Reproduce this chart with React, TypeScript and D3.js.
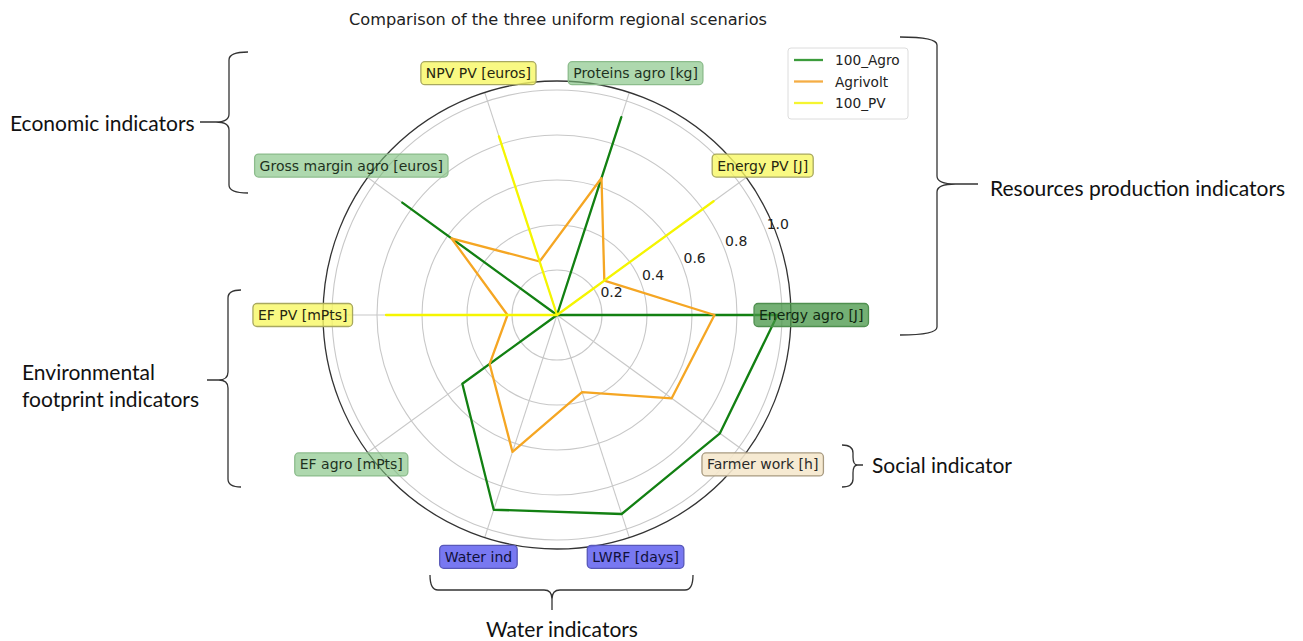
import { useEffect, useRef } from 'react';
import * as d3 from 'd3';

// ==========================================
// DATA
// ==========================================
const axisLabels = [
  'Energy agro [J]',
  'Energy PV [J]',
  'Proteins agro [kg]',
  'NPV PV [euros]',
  'Gross margin agro [euros]',
  'EF PV [mPts]',
  'EF agro [mPts]',
  'Water ind',
  'LWRF [days]',
  'Farmer work [h]',
];

// kind of indicator, drives the label box colour
const labelKinds = ['agroMain', 'pv', 'agro', 'pv', 'agro', 'pv', 'agro', 'water', 'water', 'social'];

const seriesNames = ['100_Agro', 'Agrivolt', '100_PV'];

const agroValues = [0.98, 0, 0.925, 0, 0.85, 0, 0.52, 0.91, 0.93, 0.895];
const agrivoltValues = [0.7, 0.26, 0.64, 0.25, 0.58, 0.22, 0.37, 0.64, 0.36, 0.63];
const pvValues = [0, 0.86, 0, 0.835, 0, 0.76, 0, 0, 0, 0];

const rTicks = [0.2, 0.4, 0.6, 0.8, 1.0];

const App = () => {
  const svgRef = useRef<SVGSVGElement>(null);

  useEffect(() => {
    document.body.style.margin = '0';
    d3.select(svgRef.current).selectAll('*').remove();

    const width = 1303;
    const height = 641;
    const cx = 557;
    const cy = 315;
    const outerR = 234;

    const svg = d3.select(svgRef.current).attr('width', width).attr('height', height);

    svg.append('rect').attr('width', width).attr('height', height).attr('fill', 'white');

    // ==========================================
    // SCALES
    // ==========================================
    const n = axisLabels.length;
    const rScale = d3.scaleLinear().domain([0, 1.04]).range([0, outerR]);
    const aScale = d3.scaleLinear().domain([0, n]).range([0, 2 * Math.PI]);
    const px = (i: number, v: number) => cx + rScale(v) * Math.cos(aScale(i));
    const py = (i: number, v: number) => cy - rScale(v) * Math.sin(aScale(i));

    const plot = svg.append('g');

    // ==========================================
    // GRID
    // ==========================================
    plot.selectAll('.ring')
      .data(rTicks)
      .enter()
      .append('circle')
      .attr('cx', cx)
      .attr('cy', cy)
      .attr('r', (d) => rScale(d))
      .attr('fill', 'none')
      .attr('stroke', '#c8c8c8')
      .attr('stroke-width', 1.1);

    plot.selectAll('.spoke')
      .data(axisLabels)
      .enter()
      .append('line')
      .attr('x1', cx)
      .attr('y1', cy)
      .attr('x2', (_d, i) => px(i, 1.04))
      .attr('y2', (_d, i) => py(i, 1.04))
      .attr('stroke', '#c8c8c8')
      .attr('stroke-width', 1.1);

    plot.append('circle')
      .attr('cx', cx)
      .attr('cy', cy)
      .attr('r', outerR)
      .attr('fill', 'none')
      .attr('stroke', '#333')
      .attr('stroke-width', 1.3);

    // r tick labels at 22.5 degrees
    const labAng = (22.5 * Math.PI) / 180;
    plot.selectAll('.rlab')
      .data(rTicks)
      .enter()
      .append('text')
      .attr('x', (d) => cx + (rScale(d) + 14) * Math.cos(labAng))
      .attr('y', (d) => cy - (rScale(d) + 14) * Math.sin(labAng))
      .attr('text-anchor', 'middle')
      .attr('dominant-baseline', 'central')
      .attr('font-family', 'DejaVu Sans')
      .attr('font-size', 14)
      .attr('fill', '#222')
      .text((d) => d.toFixed(1));

    // ==========================================
    // SERIES
    // ==========================================
    const series = [
      { name: seriesNames[0], values: agroValues, color: '#128012' },
      { name: seriesNames[1], values: agrivoltValues, color: '#f5a623' },
      { name: seriesNames[2], values: pvValues, color: '#f5f500' },
    ];

    const line = d3.lineRadial<number>()
      .angle((_d, i) => Math.PI / 2 - aScale(i))
      .radius((d) => rScale(d))
      .curve(d3.curveLinearClosed);

    series.forEach((s) => {
      plot.append('path')
        .attr('transform', `translate(${cx},${cy})`)
        .attr('d', line(s.values))
        .attr('fill', 'none')
        .attr('stroke', s.color)
        .attr('stroke-width', 2.3)
        .attr('stroke-linejoin', 'round');
    });

    // ==========================================
    // AXIS LABEL BOXES
    // ==========================================
    const boxStyle: Record<string, { fill: string; stroke: string; text: string }> = {
      agroMain: { fill: 'rgba(70,150,70,0.75)', stroke: '#4f8f4f', text: '#102810' },
      agro: { fill: 'rgba(120,190,120,0.6)', stroke: '#8cbc8c', text: '#1e321e' },
      pv: { fill: 'rgba(248,248,100,0.8)', stroke: '#a8a860', text: '#262610' },
      water: { fill: 'rgba(105,105,240,0.9)', stroke: '#5858b8', text: '#10103a' },
      social: { fill: 'rgba(245,232,205,0.9)', stroke: '#a89a80', text: '#2a2a2a' },
    };

    axisLabels.forEach((lab, i) => {
      const lx = px(i, 1.13);
      const ly = py(i, 1.13);
      const st = boxStyle[labelKinds[i]];
      const g = svg.append('g');
      const rect = g.append('rect');
      const t = g.append('text')
        .attr('x', lx)
        .attr('y', ly)
        .attr('text-anchor', 'middle')
        .attr('dominant-baseline', 'central')
        .attr('font-family', 'DejaVu Sans')
        .attr('font-size', 14)
        .attr('fill', st.text)
        .text(lab);
      const w = (t.node() as SVGTextElement).getComputedTextLength();
      rect.attr('x', lx - w / 2 - 5)
        .attr('y', ly - 11.5)
        .attr('width', w + 10)
        .attr('height', 23)
        .attr('rx', 4)
        .attr('fill', st.fill)
        .attr('stroke', st.stroke)
        .attr('stroke-width', 1.3);
    });

    // ==========================================
    // TITLE
    // ==========================================
    svg.append('text')
      .attr('x', 558)
      .attr('y', 19)
      .attr('text-anchor', 'middle')
      .attr('dominant-baseline', 'central')
      .attr('font-family', 'DejaVu Sans')
      .attr('font-size', 16.2)
      .attr('fill', '#222')
      .text('Comparison of the three uniform regional scenarios');

    // ==========================================
    // LEGEND
    // ==========================================
    const legend = svg.append('g').attr('transform', 'translate(788,48)');
    legend.append('rect')
      .attr('width', 120)
      .attr('height', 71)
      .attr('rx', 3)
      .attr('fill', 'white')
      .attr('stroke', '#dcdcdc');
    const legendColors = ['#3c9c3c', '#f5ad45', '#f5f530'];
    seriesNames.forEach((name, i) => {
      legend.append('line')
        .attr('x1', 6)
        .attr('x2', 35)
        .attr('y1', 12 + i * 21.5)
        .attr('y2', 12 + i * 21.5)
        .attr('stroke', legendColors[i])
        .attr('stroke-width', 2.3);
      legend.append('text')
        .attr('x', 47)
        .attr('y', 12 + i * 21.5)
        .attr('dominant-baseline', 'central')
        .attr('font-family', 'DejaVu Sans')
        .attr('font-size', 13.7)
        .attr('fill', '#222')
        .text(name);
    });

    // ==========================================
    // BRACES + GROUP ANNOTATIONS
    // ==========================================
    const vBrace = (xv: number, xh: number, y0: number, y1: number, xt: number, yt: number) => {
      const c = 8;
      const dx = xt - xv;
      return `M${xh},${y0} Q${xv},${y0} ${xv},${y0 + c} L${xv},${yt - c} Q${xv},${yt} ${xv + dx * 0.45},${yt} L${xt},${yt}`
        + ` M${xv + dx * 0.45},${yt} Q${xv},${yt} ${xv},${yt + c} L${xv},${y1 - c} Q${xv},${y1} ${xh},${y1}`;
    };
    const hBrace = (yv: number, yh: number, x0: number, x1: number, xt: number, yt: number) => {
      const c = 8;
      const dy = yt - yv;
      return `M${x0},${yh} Q${x0},${yv} ${x0 + c},${yv} L${xt - c},${yv} Q${xt},${yv} ${xt},${yv + dy * 0.45} L${xt},${yt}`
        + ` M${xt},${yv + dy * 0.45} Q${xt},${yv} ${xt + c},${yv} L${x1 - c},${yv} Q${x1},${yv} ${x1},${yh}`;
    };

    const braces = [
      vBrace(229, 248, 52, 193, 200, 122),
      vBrace(228, 241, 290, 487, 207, 380),
      vBrace(937, 900, 37, 335, 978, 184),
      vBrace(853, 842, 445, 487, 863, 465),
      hBrace(590, 575, 430, 693, 552, 610),
    ];
    braces.forEach((d) => {
      svg.append('path')
        .attr('d', d)
        .attr('fill', 'none')
        .attr('stroke', '#333')
        .attr('stroke-width', 1.3);
    });

    const notes = [
      { text: 'Economic indicators', x: 10, y: 122, anchor: 'start' },
      { text: 'Environmental', x: 22, y: 371, anchor: 'start' },
      { text: 'footprint indicators', x: 22, y: 398, anchor: 'start' },
      { text: 'Resources production indicators', x: 990, y: 187, anchor: 'start' },
      { text: 'Social indicator', x: 872, y: 464, anchor: 'start' },
      { text: 'Water indicators', x: 562, y: 628, anchor: 'middle' },
    ];
    notes.forEach((nt) => {
      svg.append('text')
        .attr('x', nt.x)
        .attr('y', nt.y)
        .attr('text-anchor', nt.anchor)
        .attr('dominant-baseline', 'central')
        .attr('font-family', 'Lato')
        .attr('font-size', 21)
        .attr('fill', '#111')
        .text(nt.text);
    });
  }, []);

  return (
    <div style={{ position: 'absolute', left: 0, top: 0 }}>
      <svg ref={svgRef} style={{ display: 'block' }}></svg>
    </div>
  );
};

export default App;
